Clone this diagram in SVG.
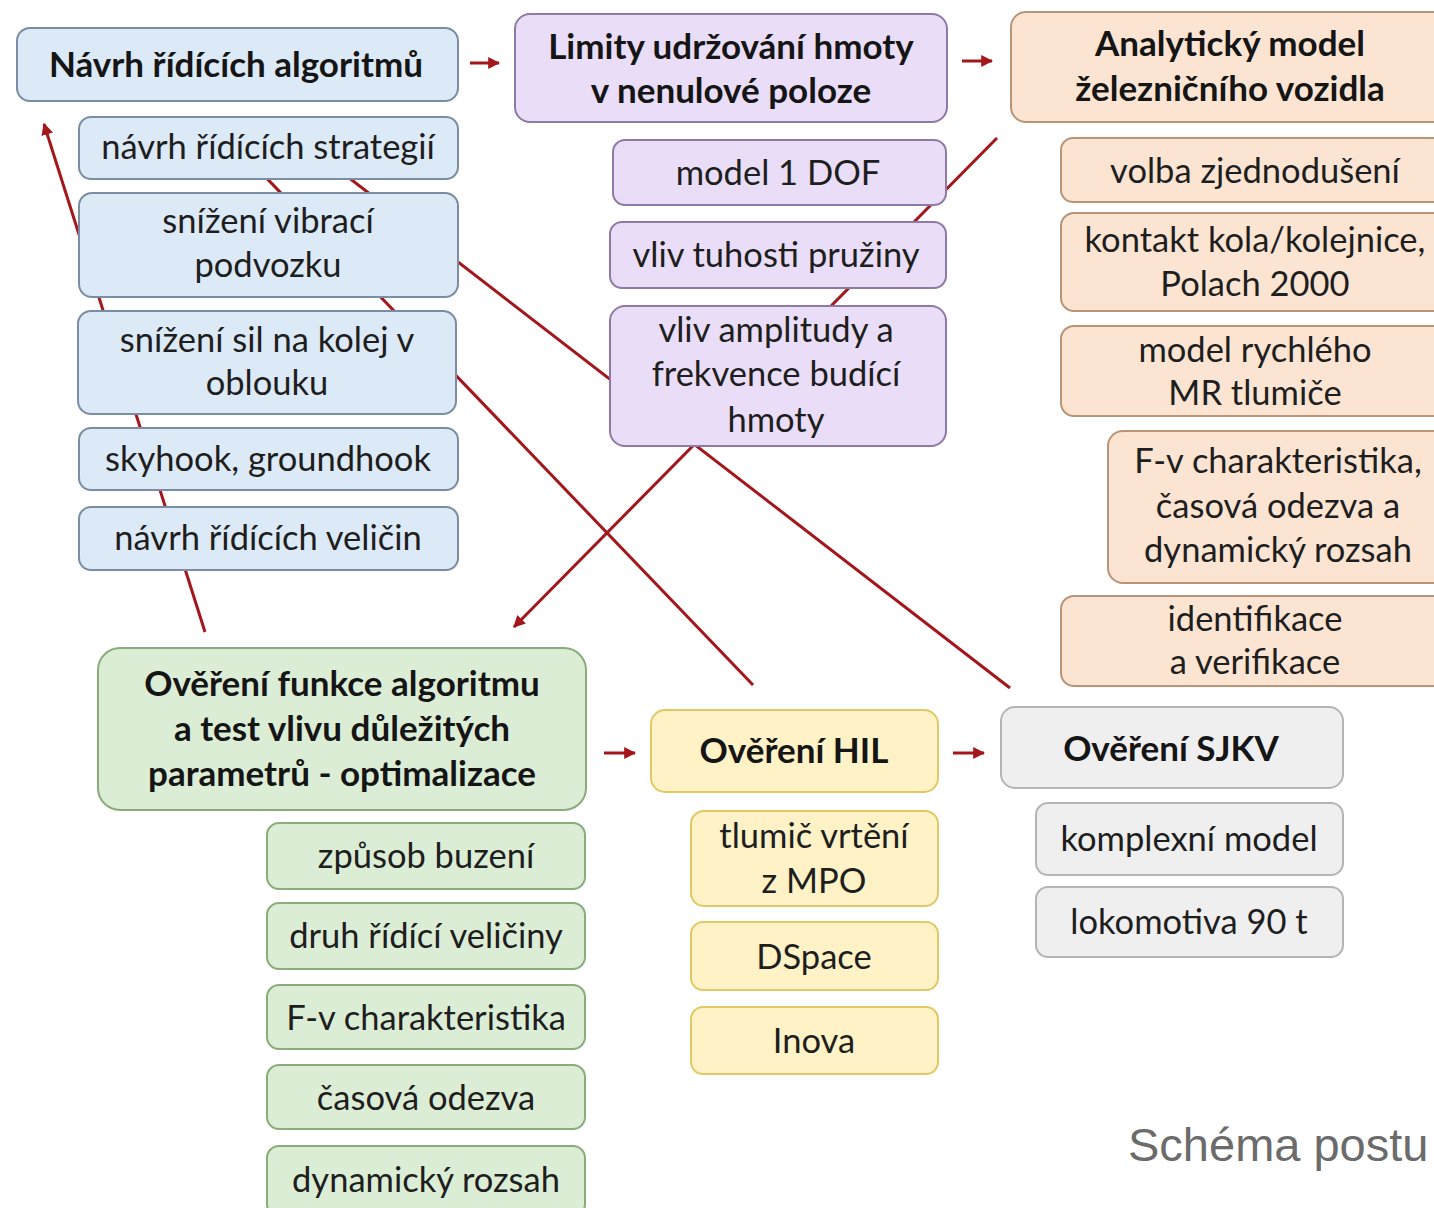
<svg xmlns="http://www.w3.org/2000/svg" width="1434" height="1208" viewBox="0 0 1434 1208">
<defs>
<marker id="ah" viewBox="0 0 10 10" refX="9" refY="5" markerWidth="4" markerHeight="4" orient="auto" markerUnits="strokeWidth">
<path d="M0,0 L10,5 L0,10 z" fill="#a3161b"/>
</marker>
<style>
.t{font-family:Lato,"Open Sans","DejaVu Sans",sans-serif;font-size:34.5px;fill:#1e1e1e;text-anchor:middle}
.b{font-family:Lato,"Open Sans","DejaVu Sans",sans-serif;font-size:35px;font-weight:bold;fill:#151515;text-anchor:middle}
.blue{fill:#dce9f7;stroke:#7b8da3;stroke-width:2}
.pur{fill:#e9ddf8;stroke:#8f7aa6;stroke-width:2}
.ora{fill:#fce4d2;stroke:#b89478;stroke-width:2}
.grn{fill:#dcedd6;stroke:#8aab7a;stroke-width:2}
.yel{fill:#fff2c6;stroke:#e2c965;stroke-width:2}
.gry{fill:#efefef;stroke:#b5b5b5;stroke-width:2}
.c{stroke:#a3161b;stroke-width:3;fill:none}
</style>
</defs>
<rect width="1434" height="1208" fill="#ffffff"/>
<g id="connectors">
<line class="c" x1="205" y1="632" x2="44" y2="124" marker-end="url(#ah)"/>
<line class="c" x1="997" y1="138" x2="514" y2="627" marker-end="url(#ah)"/>
<line class="c" x1="300" y1="140" x2="1010" y2="688"/>
<line class="c" x1="230" y1="140" x2="753" y2="685"/>
<line class="c" x1="470" y1="63" x2="499" y2="63" marker-end="url(#ah)"/>
<line class="c" x1="962" y1="61" x2="992" y2="61" marker-end="url(#ah)"/>
<line class="c" x1="604" y1="753" x2="635" y2="753" marker-end="url(#ah)"/>
<line class="c" x1="953" y1="753" x2="984" y2="753" marker-end="url(#ah)"/>
</g>
<g id="n-navrh"><rect class="blue" x="17" y="28" width="441" height="73" rx="13"/><text class="b" x="236" y="77">Návrh řídících algoritmů</text></g>
<g id="n-strategie"><rect class="blue" x="79" y="117" width="379" height="62" rx="12"/><text class="t" x="268" y="159">návrh řídících strategií</text></g>
<g id="n-vibrace"><rect class="blue" x="79" y="193" width="379" height="104" rx="13"/><text class="t" x="268" y="233">snížení vibrací</text><text class="t" x="268" y="277">podvozku</text></g>
<g id="n-sily"><rect class="blue" x="78" y="311" width="378" height="103" rx="13"/><text class="t" x="267" y="352">snížení sil na kolej v</text><text class="t" x="267" y="395">oblouku</text></g>
<g id="n-skyhook"><rect class="blue" x="79" y="428" width="379" height="62" rx="12"/><text class="t" x="268" y="471">skyhook, groundhook</text></g>
<g id="n-velicin"><rect class="blue" x="79" y="507" width="379" height="63" rx="12"/><text class="t" x="268" y="550">návrh řídících veličin</text></g>

<g id="n-limity"><rect class="pur" x="515" y="14" width="432" height="108" rx="15"/><text class="b" x="731" y="59">Limity udržování hmoty</text><text class="b" x="731" y="103">v nenulové poloze</text></g>
<g id="n-dof"><rect class="pur" x="613" y="140" width="333" height="65" rx="12"/><text class="t" x="778" y="185">model 1 DOF</text></g>
<g id="n-tuhost"><rect class="pur" x="610" y="222" width="336" height="66" rx="12"/><text class="t" x="776" y="267">vliv tuhosti pružiny</text></g>
<g id="n-amplituda"><rect class="pur" x="610" y="306" width="336" height="140" rx="15"/><text class="t" x="776" y="342">vliv amplitudy a</text><text class="t" x="776" y="386">frekvence budící</text><text class="t" x="776" y="432">hmoty</text></g>

<g id="n-analyticky"><rect class="ora" x="1011" y="12" width="440" height="110" rx="15"/><text class="b" x="1230" y="56">Analytický model</text><text class="b" x="1230" y="101">železničního vozidla</text></g>
<g id="n-volba"><rect class="ora" x="1061" y="138" width="390" height="64" rx="12"/><text class="t" x="1255" y="183">volba zjednodušení</text></g>
<g id="n-kontakt"><rect class="ora" x="1061" y="213" width="390" height="98" rx="13"/><text class="t" x="1255" y="252">kontakt kola/kolejnice,</text><text class="t" x="1255" y="296">Polach 2000</text></g>
<g id="n-mr"><rect class="ora" x="1061" y="326" width="390" height="90" rx="13"/><text class="t" x="1255" y="362">model rychlého</text><text class="t" x="1255" y="405">MR tlumiče</text></g>
<g id="n-fv1"><rect class="ora" x="1108" y="431" width="343" height="152" rx="15"/><text class="t" x="1278" y="473">F-v charakteristika,</text><text class="t" x="1278" y="518">časová odezva a</text><text class="t" x="1278" y="562">dynamický rozsah</text></g>
<g id="n-ident"><rect class="ora" x="1061" y="596" width="390" height="90" rx="13"/><text class="t" x="1255" y="631">identifikace</text><text class="t" x="1255" y="674">a verifikace</text></g>

<g id="n-overeni"><rect class="grn" x="98" y="648" width="488" height="162" rx="22"/><text class="b" x="342" y="696">Ověření funkce algoritmu</text><text class="b" x="342" y="741">a test vlivu důležitých</text><text class="b" x="342" y="786">parametrů - optimalizace</text></g>
<g id="n-buzeni"><rect class="grn" x="267" y="823" width="318" height="66" rx="12"/><text class="t" x="426" y="868">způsob buzení</text></g>
<g id="n-druh"><rect class="grn" x="267" y="903" width="318" height="66" rx="12"/><text class="t" x="426" y="948">druh řídící veličiny</text></g>
<g id="n-fv2"><rect class="grn" x="267" y="985" width="318" height="64" rx="12"/><text class="t" x="426" y="1030">F-v charakteristika</text></g>
<g id="n-odezva"><rect class="grn" x="267" y="1065" width="318" height="64" rx="12"/><text class="t" x="426" y="1110">časová odezva</text></g>
<g id="n-rozsah"><rect class="grn" x="267" y="1146" width="318" height="70" rx="12"/><text class="t" x="426" y="1192">dynamický rozsah</text></g>

<g id="n-hil"><rect class="yel" x="651" y="710" width="287" height="82" rx="14"/><text class="b" x="794" y="763">Ověření HIL</text></g>
<g id="n-tlumic"><rect class="yel" x="691" y="811" width="247" height="95" rx="13"/><text class="t" x="814" y="848">tlumič vrtění</text><text class="t" x="814" y="893">z MPO</text></g>
<g id="n-dspace"><rect class="yel" x="691" y="922" width="247" height="68" rx="12"/><text class="t" x="814" y="969">DSpace</text></g>
<g id="n-inova"><rect class="yel" x="691" y="1007" width="247" height="67" rx="12"/><text class="t" x="814" y="1053">Inova</text></g>

<g id="n-sjkv"><rect class="gry" x="1001" y="707" width="342" height="81" rx="14"/><text class="b" x="1171" y="761">Ověření SJKV</text></g>
<g id="n-komplex"><rect class="gry" x="1036" y="803" width="307" height="72" rx="12"/><text class="t" x="1189" y="851">komplexní model</text></g>
<g id="n-lokomotiva"><rect class="gry" x="1036" y="887" width="307" height="70" rx="12"/><text class="t" x="1189" y="934">lokomotiva 90 t</text></g>

<text x="1128" y="1161" font-family="'Liberation Sans',Arial,sans-serif" font-size="47" fill="#6b6b6b">Schéma postu</text>
</svg>
